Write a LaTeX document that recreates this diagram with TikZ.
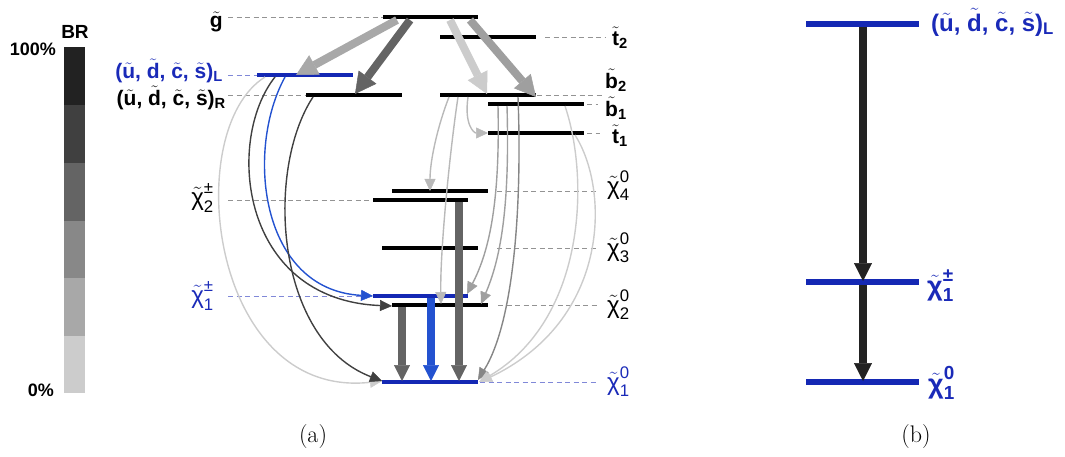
\documentclass[tikz,border=0pt]{standalone}
\usepackage{amsmath}
\usepackage{fontspec}
\newfontfamily\lab{Liberation Sans}
\usetikzlibrary{arrows.meta}
\definecolor{lvblue}{HTML}{1428B4}
\definecolor{arblue}{HTML}{2352D0}
\definecolor{dsblue}{HTML}{8088D8}
\definecolor{txblue}{HTML}{1A2AB8}
\definecolor{gA}{HTML}{222222}
\definecolor{gB}{HTML}{404040}
\definecolor{gC}{HTML}{646464}
\definecolor{gD}{HTML}{888888}
\definecolor{gE}{HTML}{A8A8A8}
\definecolor{gF}{HTML}{CCCCCC}
\newcommand\tld[1]{\ensuremath{\tilde{\hbox{#1}}}}
\newcommand\chl[3]{$\tilde{\hbox{χ}}^{\text{#2}}_{\text{#3}}$}
\newcommand\sqk[1]{(\tld{u}, \tld{d}, \tld{c}, \tld{s})$_{\text{#1}}$}
\newcommand\tsub[2]{$\tilde{\hbox{#1}}_{\text{#2}}$}
\newcommand\fa{\fontsize{21}{24}\selectfont}
\newcommand\fc{\fontsize{24}{28}\selectfont}
\newcommand\fb{\fontsize{24}{28}\selectfont}
\newcommand\fd{\fontsize{27}{30}\selectfont}
\begin{document}
\begin{tikzpicture}[x=1pt,y=-1pt,
  lvl/.style={line width=4.5pt,black},
  lvlb/.style={line width=4.5pt,lvblue},
  lvlr/.style={line width=6pt,lvblue},
  dsh/.style={line width=0.8pt,color=gray!85,dash pattern=on 5pt off 3.5pt},
  dshb/.style={line width=0.8pt,color=dsblue,dash pattern=on 5pt off 3.5pt},
  thk/.style={line width=8pt,-{Triangle[width=22pt,length=21pt,line width=0.5pt]}},
  vthk/.style={line width=8pt,-{Triangle[width=16pt,length=16pt,line width=0.5pt]}},
  rthk/.style={line width=8pt,-{Triangle[width=18pt,length=18pt,line width=0.5pt]}},
  thin/.style={line width=1.4pt,-{Triangle[width=11pt,length=12pt,line width=0.5pt]}},
  lbl/.style={inner sep=0pt,font=\lab\fa},
  clbl/.style={inner sep=0pt,font=\lab\fc},
  lblb/.style={inner sep=0pt,font=\lab\fa\bfseries},
  rlbl/.style={inner sep=0pt,font=\lab\fb\bfseries,text=txblue},
  rclbl/.style={inner sep=0pt,font=\lab\fd\bfseries,text=txblue},
  captxt/.style={inner sep=0pt,font=\fontsize{24}{28}\selectfont}
]
\useasboundingbox (0,0) rectangle (1065,457);

% ---------- BR scale ----------
\fill[gA] (64,47) rectangle (85,105);
\fill[gB] (64,105) rectangle (85,163);
\fill[gC] (64,163) rectangle (85,221);
\fill[gD] (64,221) rectangle (85,278);
\fill[gE] (64,278) rectangle (85,336);
\fill[gF] (64,336) rectangle (85,393);
\node[inner sep=0pt,font=\lab\fontsize{19}{22}\selectfont\bfseries] (br) at (75,32) {BR};
\node[inner sep=0pt,font=\lab\fontsize{18}{22}\selectfont\bfseries,anchor=east] (pmax) at (56,49) {100\%};
\node[inner sep=0pt,font=\lab\fontsize{18}{22}\selectfont\bfseries,anchor=east] (pmin) at (54,390) {0\%};

% ---------- guide lines ----------
\draw[dsh] (228,17) -- (383,17);
\draw[dsh] (545,37) -- (605,37);
\draw[dshb] (228,75) -- (257,75);
\draw[dsh] (228,95) -- (306,95);
\draw[dsh] (537,95) -- (603,95);
\draw[dsh] (587,104) -- (598,104);
\draw[dsh] (587,133) -- (600,133);
\draw[dsh] (497,191) -- (598,191);
\draw[dsh] (228,200) -- (373,200);
\draw[dsh] (497,248) -- (598,248);
\draw[dshb] (228,296) -- (373,296);
\draw[dsh] (498,305) -- (598,305);
\draw[dshb] (480,382) -- (598,382);

% ---------- levels (a) ----------
\draw[lvl] (383,17) -- (478,17);
\draw[lvl] (440,37) -- (536,37);
\draw[lvlb] (257,75) -- (353,75);
\draw[lvl] (306,95) -- (402,95);
\draw[lvl] (440,95) -- (536,95);
\draw[lvl] (488,104) -- (584,104);
\draw[lvl] (488,133) -- (584,133);
\draw[lvl] (392,191) -- (488,191);
\draw[lvl] (373,200) -- (468,200);
\draw[lvl] (382,248) -- (478,248);
\draw[lvlb] (373,296) -- (468,296);
\draw[lvl] (392,305) -- (488,305);
\draw[lvlb] (382,382) -- (478,382);

% ---------- labels (a) ----------
\node[lblb,anchor=east] (lgl) at (223,22) {\tld{g}};
\node[lblb,anchor=east,text=txblue] (lsqL) at (223,71) {\sqk{L}};
\node[lblb,anchor=east] (lsqR) at (226,98) {\sqk{R}};
\node[clbl,anchor=east] (lc2p) at (214,198) {\chl{χ}{±}{2}};
\node[clbl,anchor=east,text=txblue] (lc1p) at (214,296) {\chl{χ}{±}{1}};
\node[lblb,anchor=west] (lt2) at (612,38) {\tsub{t}{2}};
\node[lblb,anchor=west] (lb2) at (605,80) {\tsub{b}{2}};
\node[lblb,anchor=west] (lb1) at (605,108) {\tsub{b}{1}};
\node[lblb,anchor=west] (lt1) at (612,136) {\tsub{t}{1}};
\node[clbl,anchor=west] (lc40) at (607,186) {\chl{χ}{0}{4}};
\node[clbl,anchor=west] (lc30) at (607,248) {\chl{χ}{0}{3}};
\node[clbl,anchor=west] (lc20) at (607,305) {\chl{χ}{0}{2}};
\node[clbl,anchor=west,text=txblue] (lc10) at (607,382) {\chl{χ}{0}{1}};

% ---------- arrow end points (a) ----------
\coordinate (a1s) at (397,20);  \coordinate (a1e) at (296,75);
\coordinate (a2s) at (410,20);  \coordinate (a2e) at (355,94);
\coordinate (a3s) at (450,20);  \coordinate (a3e) at (487,94);
\coordinate (a4s) at (470,20);  \coordinate (a4e) at (536,97);
\coordinate (v1s) at (402,307); \coordinate (v1e) at (402,381);
\coordinate (v2s) at (431,298); \coordinate (v2e) at (431,381);
\coordinate (v3s) at (459,202); \coordinate (v3e) at (459,381);
\coordinate (c1s) at (265,77);  \coordinate (c1e) at (382,381);
\coordinate (c2s) at (275,77);  \coordinate (c2e) at (392,306);
\coordinate (c3s) at (285,77);  \coordinate (c3e) at (373,296);
\coordinate (c4s) at (313,97);  \coordinate (c4e) at (382,381);
\coordinate (c5s) at (449,97);  \coordinate (c5e) at (430,191);
\coordinate (c6s) at (458,97);  \coordinate (c6e) at (441,304);
\coordinate (c7s) at (468,97);  \coordinate (c7e) at (488,133);
\coordinate (c8s) at (498,106); \coordinate (c8e) at (467,294);
\coordinate (c9s) at (507,106); \coordinate (c9e) at (481,304);
\coordinate (c10s) at (518,97); \coordinate (c10e) at (478,380);
\coordinate (c11s) at (565,106);\coordinate (c11e) at (479,382);
\coordinate (c12s) at (575,135);\coordinate (c12e) at (480,382);

% ---------- thin curved arrows ----------
\draw[thin,gF] (c1s) .. controls (180,130) and (210,400) .. (c1e);
\draw[thin,gB] (c2s) .. controls (225,140) and (240,300) .. (c2e);
\draw[thin,arblue] (c3s) .. controls (245,150) and (260,290) .. (c3e);
\draw[thin,gB] (c4s) .. controls (265,170) and (275,340) .. (c4e);
\draw[thin,color=gray!55] (c5s) .. controls (438,125) and (430,160) .. (c5e);
\draw[thin,color=gray!55] (c6s) .. controls (450,150) and (440,250) .. (c6e);
\draw[thin,color=gray!55] (c7s) .. controls (464,125) and (474,133) .. (c7e);
\draw[thin,color=gray!75] (c8s) .. controls (500,200) and (490,250) .. (c8e);
\draw[thin,color=gray!75] (c9s) .. controls (510,210) and (500,260) .. (c9e);
\draw[thin,color=gray!95] (c10s) .. controls (522,200) and (515,320) .. (c10e);
\draw[thin,gF] (c11s) .. controls (590,180) and (585,320) .. (c11e);
\draw[thin,gF] (c12s) .. controls (610,190) and (610,320) .. (c12e);

% ---------- thick arrows ----------
\draw[thk,gE] (a1s) -- (a1e);
\draw[thk,gC] (a2s) -- (a2e);
\draw[thk,gF] (a3s) -- (a3e);
\draw[thk,color=gray!75] (a4s) -- (a4e);
\draw[vthk,gC] (v1s) -- (v1e);
\draw[vthk,arblue] (v2s) -- (v2e);
\draw[vthk,gC] (v3s) -- (v3e);

% ---------- panel (b) ----------
\draw[lvlr] (806,24) -- (919,24);
\draw[lvlr] (806,282) -- (919,282);
\draw[lvlr] (806,382) -- (919,382);
\coordinate (r1s) at (863,27);  \coordinate (r1e) at (863,281);
\coordinate (r2s) at (863,285); \coordinate (r2e) at (863,381);
\draw[rthk,gA] (r1s) -- (r1e);
\draw[rthk,gA] (r2s) -- (r2e);
\node[rlbl,anchor=west] (rsq) at (931,22) {\sqk{L}};
\node[rclbl,anchor=west] (rc1p) at (927,286) {\chl{χ}{±}{1}};
\node[rclbl,anchor=west] (rc10) at (928,383) {\chl{χ}{0}{1}};

% ---------- captions ----------
\node[captxt] (capa) at (313,437) {(a)};
\node[captxt] (capb) at (916,437) {(b)};
\end{tikzpicture}
\end{document}
